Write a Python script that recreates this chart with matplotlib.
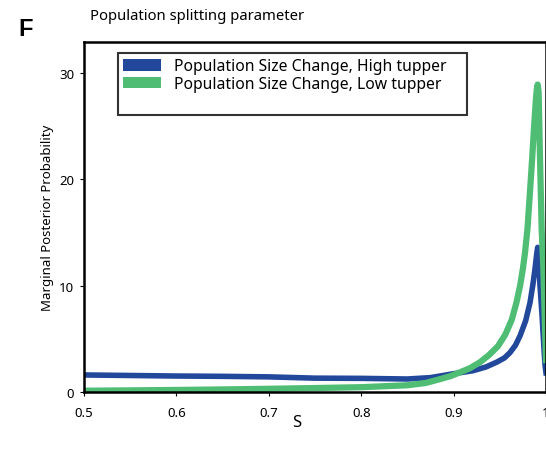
import matplotlib
matplotlib.use("Agg")
import matplotlib.pyplot as plt
from matplotlib.patches import Patch

plt.rcParams['font.family'] = ['Noto Sans', 'DejaVu Sans']

# --- data ---
s_high = [0.50, 0.55, 0.60, 0.65, 0.70, 0.75, 0.80, 0.85, 0.875, 0.896, 0.921, 0.935,
          0.9466, 0.955, 0.961, 0.967, 0.972, 0.978, 0.9827, 0.986, 0.988, 0.990,
          0.991, 0.992, 0.9935, 0.9955, 0.997, 0.998, 0.999, 1.0]
p_high = [1.6, 1.55, 1.5, 1.47, 1.42, 1.3, 1.28, 1.22, 1.35, 1.66, 2.0, 2.35,
          2.8, 3.2, 3.7, 4.4, 5.3, 6.7, 8.4, 10.2, 11.5, 13.0,
          13.6, 12.6, 10.0, 7.5, 5.3, 3.8, 2.5, 1.8]

s_low = [0.50, 0.55, 0.60, 0.65, 0.70, 0.75, 0.80, 0.85, 0.87, 0.885, 0.897, 0.907,
         0.918, 0.9286, 0.938, 0.948, 0.956, 0.963, 0.968, 0.972, 0.975, 0.9773,
         0.980, 0.9825, 0.985, 0.987, 0.989, 0.990, 0.991, 0.992, 0.9935, 0.9953,
         0.997, 0.999, 1.0]
p_low = [0.12, 0.15, 0.19, 0.24, 0.30, 0.37, 0.45, 0.63, 0.85, 1.2, 1.5, 1.85,
         2.25, 2.8, 3.45, 4.3, 5.4, 6.8, 8.4, 10.0, 11.6, 13.1,
         15.4, 18.6, 21.9, 24.8, 27.4, 28.4, 28.9, 28.2, 22.0, 15.3,
         12.0, 6.0, 3.0]

labels = ["Population Size Change, High tupper", "Population Size Change, Low tupper"]
colors = ["#22489b", "#4fbe74"]
x_ticks = [0.5, 0.6, 0.7, 0.8, 0.9, 1.0]
x_ticklabels = ["0.5", "0.6", "0.7", "0.8", "0.9", "1"]
y_ticks = [0, 10, 20, 30]

fig = plt.figure(figsize=(5.46, 4.60), dpi=100)
ax = fig.add_axes([0.1538, 0.1457, 0.8462, 0.7608])

ax.plot(s_high, p_high, color=colors[0], lw=4.0, solid_joinstyle='round')
ax.plot(s_low, p_low, color=colors[1], lw=4.5, solid_joinstyle='round')

ax.set_xlim(0.5, 1.0)
ax.set_ylim(0, 32.9)
ax.set_xticks(x_ticks)
ax.set_xticklabels(x_ticklabels)
ax.set_yticks(y_ticks)
ax.tick_params(axis='both', direction='out', length=3, width=0.8, labelsize=9.5)
ax.tick_params(axis='y', pad=4)
ax.tick_params(axis='x', pad=7)
for sp in ax.spines.values():
    sp.set_linewidth(1.8)
    sp.set_color('black')

ax.set_ylabel("Marginal Posterior Probability", fontsize=9.5, labelpad=4)
fig.text(297 / 546, 1 - 423 / 460, "S", fontsize=12, ha='center', va='center')

handles = [Patch(facecolor=colors[0], edgecolor='none'),
           Patch(facecolor=colors[1], edgecolor='none'),
           Patch(facecolor='none', edgecolor='none')]
blank = "\u2007" * 32
leg = ax.legend(handles, labels + [blank], loc='upper left', bbox_to_anchor=(0.0736, 0.9686),
                borderaxespad=0, fontsize=11.3, frameon=True, fancybox=False,
                handlelength=2.4, handleheight=0.75, handletextpad=0.8,
                labelspacing=0.1, borderpad=0.35)
leg.get_frame().set_edgecolor('black')
leg.get_frame().set_linewidth(1.5)

fig.text(90 / 546, 1 - 16 / 460, "Population splitting parameter", fontsize=10.7,
         ha='left', va='center')
fig.text(18 / 546, 1 - 30 / 460, "F", fontsize=17, fontweight='bold',
         family=['Liberation Sans', 'DejaVu Sans'], ha='left', va='center')

fig.savefig("out.png", dpi=100)
